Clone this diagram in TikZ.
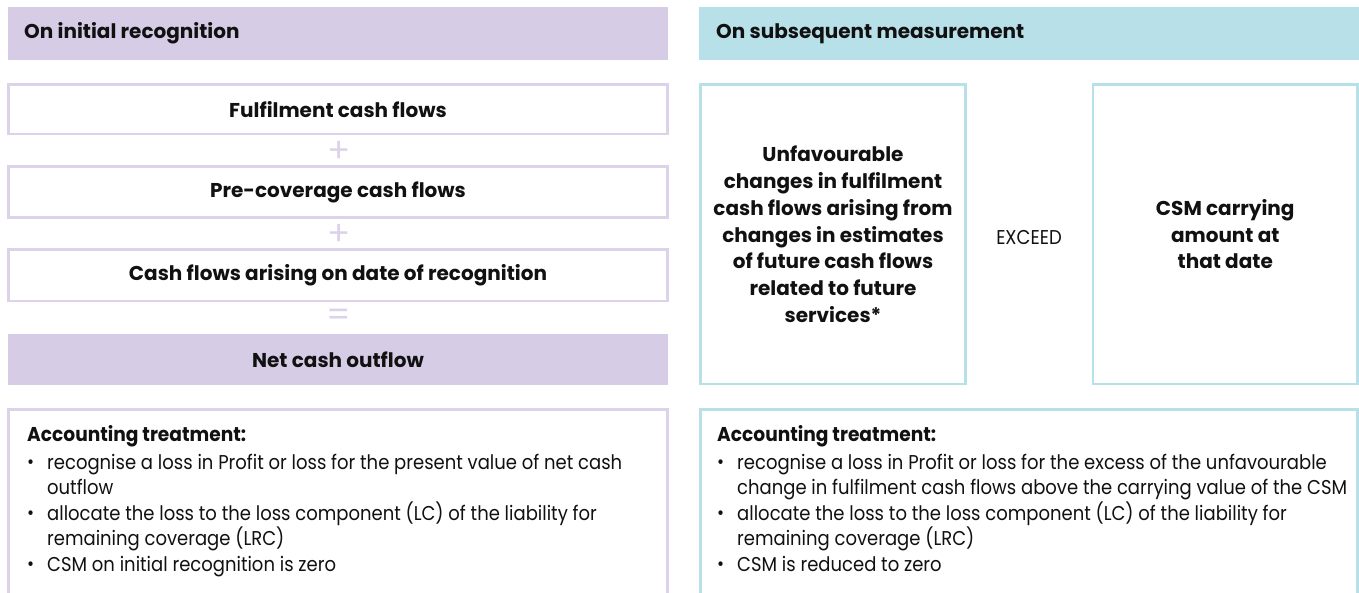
\documentclass[tikz,border=0pt]{standalone}
\usepackage{fontspec}
\setmainfont{Poppins}
\newfontfamily\bodyfam[FakeStretch=0.9]{Poppins}
\newfontfamily\headfam[FakeStretch=0.93]{Poppins}
\usetikzlibrary{positioning}
\definecolor{lav}{HTML}{D7CCE5}
\definecolor{lavline}{HTML}{DCD3EA}
\definecolor{sky}{HTML}{B8E0E8}
\definecolor{ink}{HTML}{111111}
\tikzset{
  lbox/.style={draw=lavline, line width=2.7pt, fill=white},
  bbox/.style={draw=sky, line width=2.7pt, fill=white},
  boldtxt/.style={font=\fontsize{20}{26.7}\selectfont\bfseries, text=ink, align=center, inner sep=0pt},
  bodytxt/.style={font=\bodyfam\fontsize{20}{25.5}\selectfont, text=ink, align=left, inner sep=0pt},
  sign/.style={font=\fontsize{34}{34}\selectfont, text=lavline, inner sep=0pt},
}
\newcommand{\bul}{\makebox[20pt][l]{\raisebox{0.5pt}{\scalebox{0.95}{•}}}}
\begin{document}
\begin{tikzpicture}[x=1pt,y=-1pt]
\useasboundingbox (0,0) rectangle (1359,592);
\begin{scope}
\clip (0,0) rectangle (1359,592);
% headers
\fill[lav] (8,7) rectangle (668,60);
\fill[sky] (699,7) rectangle (1359,60);
\node[boldtxt, anchor=west] (h1) at (24,33.5) {On initial recognition};
\node[boldtxt, anchor=west] (h2) at (716,33.5) {On subsequent measurement};
% left stack
\draw[lbox] (8.5,84.5) rectangle (667.5,134) node[midway, boldtxt] (b1) {Fulfilment cash flows};
\node[sign] (p1) at (339,152) {+};
\draw[lbox] (8.5,166.5) rectangle (667.5,217.5) node[midway, boldtxt] (b2) {Pre-coverage cash flows};
\node[sign] (p2) at (339,235) {+};
\draw[lbox] (8.5,249.5) rectangle (667.5,301) node[midway, boldtxt] (b3) {Cash flows arising on date of recognition};
\node[sign] (e1) at (339,318) {=};
\fill[lav] (8,334) rectangle (668,385) node[midway, boldtxt] (b4) {Net cash outflow};
% right boxes
\draw[bbox] (700.5,84.5) rectangle (965.5,384) node[midway, boldtxt] (r1) {Unfavourable\\changes in fulfilment\\cash flows arising from\\changes in estimates\\of future cash flows\\related to future\\services*};
\node[font=\bodyfam\fontsize{20}{20}\selectfont, text=ink, inner sep=0pt] (ex) at (1029,237) {EXCEED};
\draw[bbox] (1093,84.5) rectangle (1357.5,384) node[midway, boldtxt] (r2) {CSM carrying\\amount at\\that date};
% accounting boxes
\draw[lbox] (8.5,600) -- (8.5,409.5) -- (667.5,409.5) -- (667.5,600);
\draw[bbox] (700.5,600) -- (700.5,409.5) -- (1357.5,409.5) -- (1357.5,600);
\end{scope}
\node[bodytxt, anchor=north west] (a1) at (27,425) {{\headfam\bfseries Accounting treatment:}\\[2.5pt]
\bul recognise a loss in Profit or loss for the present value of net cash\\
\hspace*{20pt}outflow\\
\bul allocate the loss to the loss component (LC) of the liability for\\
\hspace*{20pt}remaining coverage (LRC)\\
\bul CSM on initial recognition is zero};
\node[bodytxt, anchor=north west] (a2) at (717,425) {{\headfam\bfseries Accounting treatment:}\\[2.5pt]
\bul recognise a loss in Profit or loss for the excess of the unfavourable\\
\hspace*{20pt}change in fulfilment cash flows above the carrying value of the CSM\\
\bul allocate the loss to the loss component (LC) of the liability for\\
\hspace*{20pt}remaining coverage (LRC)\\
\bul CSM is reduced to zero};
\end{tikzpicture}
\end{document}
